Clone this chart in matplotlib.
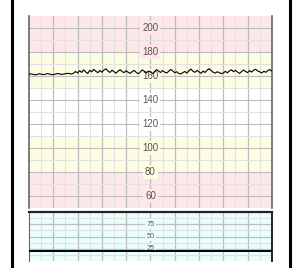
import numpy as np
import matplotlib
matplotlib.use("Agg")
import matplotlib.pyplot as plt
from matplotlib.lines import Line2D

plt.rcParams['font.family'] = ['Liberation Sans', 'DejaVu Sans']

# fetal heart rate trace (bpm), sampled evenly over 10 minutes
fhr = [161.5, 161.8, 161.4, 161.0, 161.3, 161.9, 161.6, 161.2, 161.5, 162.0,
       161.7, 161.3, 161.1, 161.6, 162.1, 161.8, 161.4, 161.6, 161.9, 162.3,
       162.0, 161.7, 162.4, 163.8, 162.6, 164.5, 163.0, 165.2, 163.4, 162.1,
       164.8, 163.5, 165.6, 164.0, 162.8, 164.6, 163.2, 165.0, 166.0, 164.2,
       163.0, 164.9, 163.6, 162.4, 164.1, 165.3, 163.7, 162.9, 164.4, 163.1,
       162.2, 163.8, 164.7, 163.0, 161.9, 163.5, 165.1, 163.9, 162.6, 164.2,
       163.4, 162.0, 163.7, 165.4, 164.1, 163.0, 164.6, 163.3, 162.5, 164.0,
       165.5, 164.3, 162.8, 163.6, 162.1, 161.7, 162.9, 163.8, 162.5, 164.4,
       165.8, 164.0, 163.1, 164.7, 163.5, 162.3, 164.1, 163.0, 164.9, 166.1,
       164.5, 163.2, 162.4, 163.6, 162.8, 162.0, 162.6, 163.9, 162.7, 164.3,
       165.2, 163.6, 164.8, 163.4, 162.2, 163.7, 165.0, 163.8, 162.9, 164.5,
       163.3, 164.9, 165.7, 164.2, 163.5, 162.6, 164.0, 163.1, 164.6, 165.4,
       164.1]
# uterine contraction trace
uc = [21, 21, 21, 21, 21, 21, 21, 21, 21, 21, 21]

fhr_labels = [60, 80, 100, 120, 140, 160, 180, 200]
uc_labels = [25, 50, 75]

# colour bands (low, high, colour)
bands = [(50, 80, "#fde7ea"), (80, 110, "#fdfde3"), (110, 150, "#ffffff"),
         (150, 180, "#fdfde3"), (180, 210, "#fde7ea")]

fig = plt.figure(figsize=(2.93, 2.68), dpi=100)
fig.add_artist(Line2D([0.041, 0.041], [0, 1], color="black", lw=2.2))
fig.add_artist(Line2D([0.989, 0.989], [0, 1], color="black", lw=2.2))

minor_c = "#e2e2e2"
major_c = "#bdbdbd"

# top panel: FHR
ax = fig.add_axes([0.099, 0.224, 0.829, 0.716])
ax.set_xlim(0, 10)
ax.set_ylim(50, 210)
for lo, hi, c in bands:
    ax.axhspan(lo, hi, color=c, lw=0, zorder=0)
for v in np.arange(0.5, 10, 1):
    ax.axvline(v, color=minor_c, lw=0.8, zorder=1)
for v in range(1, 10):
    ax.axvline(v, color=major_c, lw=0.9, zorder=1)
for v in range(60, 210, 10):
    ax.axhline(v, color=minor_c if v % 20 else major_c, lw=0.8, zorder=1)
for lab in fhr_labels:
    lo_c = [c for lo, hi, c in bands if lo <= lab < hi][0]
    ax.text(5, lab, str(lab), ha="center", va="center", fontsize=7,
            color="#555555", zorder=3,
            bbox=dict(boxstyle="square,pad=0.2", fc=lo_c, ec="none"))
ax.plot(np.linspace(0, 10, len(fhr)), fhr, color="black", lw=0.8, zorder=4)
ax.set_xticks([])
ax.set_yticks([])
for s in ["top", "bottom"]:
    ax.spines[s].set_visible(False)
for s in ["left", "right"]:
    ax.spines[s].set_color("#666666")
    ax.spines[s].set_linewidth(1.2)

# bottom panel: UC
ax2 = fig.add_axes([0.099, 0.026, 0.829, 0.183])
ax2.set_xlim(0, 10)
ax2.set_ylim(0, 100)
ax2.set_facecolor("#eafefe")
for v in np.arange(0.5, 10, 1):
    ax2.axvline(v, color=minor_c, lw=0.8, zorder=1)
for v in range(1, 10):
    ax2.axvline(v, color=major_c, lw=0.9, zorder=1)
for v in [12.5, 37.5, 62.5, 87.5]:
    ax2.axhline(v, color=minor_c, lw=0.8, zorder=1)
for v in uc_labels:
    ax2.axhline(v, color=major_c, lw=0.9, zorder=1)
for lab in uc_labels:
    ax2.text(5, lab, str(lab), ha="center", va="center", fontsize=5.3,
             color="#555555", zorder=3,
             bbox=dict(boxstyle="square,pad=0.2", fc="#eafefe", ec="none"))
ax2.plot(np.linspace(0, 10, len(uc)), uc, color="black", lw=1.4, zorder=4)
ax2.set_xticks([])
ax2.set_yticks([])
ax2.spines["bottom"].set_visible(False)
ax2.spines["top"].set_color("#222222")
ax2.spines["top"].set_linewidth(1.6)
ax2.spines["left"].set_color("#666666")
ax2.spines["right"].set_color("#222222")
ax2.spines["right"].set_linewidth(1.4)

fig.savefig("out.png", dpi=100)
